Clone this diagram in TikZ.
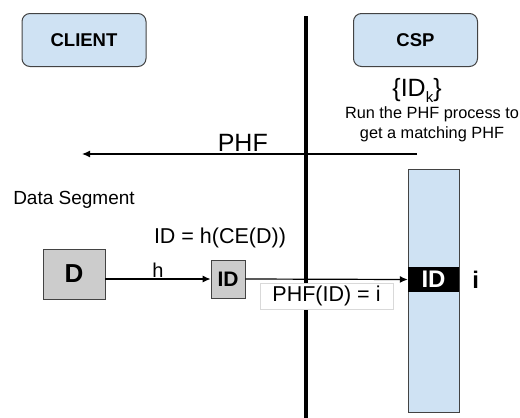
\documentclass[tikz,border=0pt]{standalone}
\usepackage{fontspec}
\setmainfont{Liberation Sans}
\usetikzlibrary{shapes,arrows,arrows.meta,positioning}
\usepackage{xcolor}
\definecolor{paleblue}{HTML}{CFE2F3}
\definecolor{boxgray}{HTML}{CCCCCC}
\definecolor{edgegray}{HTML}{434343}

\begin{document}
\begin{tikzpicture}[x=1pt, y=-1pt, >={Latex[length=8pt,width=7pt]}]

  % Define styles
  \tikzstyle{party} = [rectangle, rounded corners=8pt, draw=edgegray, line width=1pt, fill=paleblue, minimum width=124pt, minimum height=53pt, font=\fontsize{18.5}{20}\selectfont\bfseries]
  \tikzstyle{plain} = [inner sep=1pt, font=\fontsize{21.5}{24}\selectfont]
  \tikzstyle{big} = [inner sep=1pt, font=\fontsize{25}{27}\selectfont]
  \tikzstyle{block} = [rectangle, draw=edgegray, line width=0.8pt, fill=boxgray, inner sep=0pt]
  \tikzstyle{link} = [->, line width=1.2pt]

  \useasboundingbox (0,0) rectangle (520,418);

  % Parties
  \node[party] (client) at (84,40) {CLIENT};
  \node[party] (csp) at (415.5,40) {CSP};

  % Boundary between client and CSP
  \coordinate (top) at (306,16);
  \coordinate (bottom) at (306,418);
  \draw[line width=4.5pt] (top) -- (bottom);

  % CSP side
  \node[big] (idset) at (417,90) {\{ID{\fontsize{15}{15}\selectfont\raisebox{-6pt}{k}}\}};
  \node[plain, align=center, font=\fontsize{16.3}{20}\selectfont] (runtext) at (432,124) {Run the PHF process to\\get a matching PHF};

  % Index table
  \node[rectangle, draw=edgegray, fill=paleblue, minimum width=51pt, minimum height=243pt] (table) at (433.5,290.5) {};
  \node[rectangle, fill=black, minimum width=51pt, minimum height=25pt, inner sep=0pt, text=white, font=\fontsize{24}{26}\selectfont\bfseries] (slot) at (433.5,279.5) {ID};
  \node[right=12pt of slot, inner sep=1pt, font=\fontsize{24}{26}\selectfont\bfseries] (index) {i};

  % PHF sent back
  \coordinate (phfstart) at (417,154);
  \coordinate (phfend) at (82,154);
  \draw[link] (phfstart) -- (phfend) node[big, pos=0.52, above=1pt] (phfname) {PHF};

  % Client side
  \node[plain, font=\fontsize{19}{22}\selectfont] (segment) at (74,200) {Data Segment};
  \node[block, minimum width=62pt, minimum height=50pt, font=\fontsize{26}{28}\selectfont\bfseries] (data) at (74,274) {D};
  \node[block, minimum width=34pt, minimum height=38pt, font=\fontsize{21}{23}\selectfont\bfseries] (hashid) at (228,279) {ID};
  \node[plain] (hashdef) at (220,238) {ID = h(CE(D))};

  \draw[link] (data.east |- hashid.west) -- (hashid.west) node[plain, midway, above, font=\fontsize{20}{22}\selectfont] (hname) {h};
  \draw[link] (hashid.east) -- (slot.west);

  \node[rectangle, draw=black!15, fill=white, minimum width=133pt, minimum height=26pt, plain] (phflabel) at (326.5,296) {PHF(ID) = i};

\end{tikzpicture}
\end{document}
